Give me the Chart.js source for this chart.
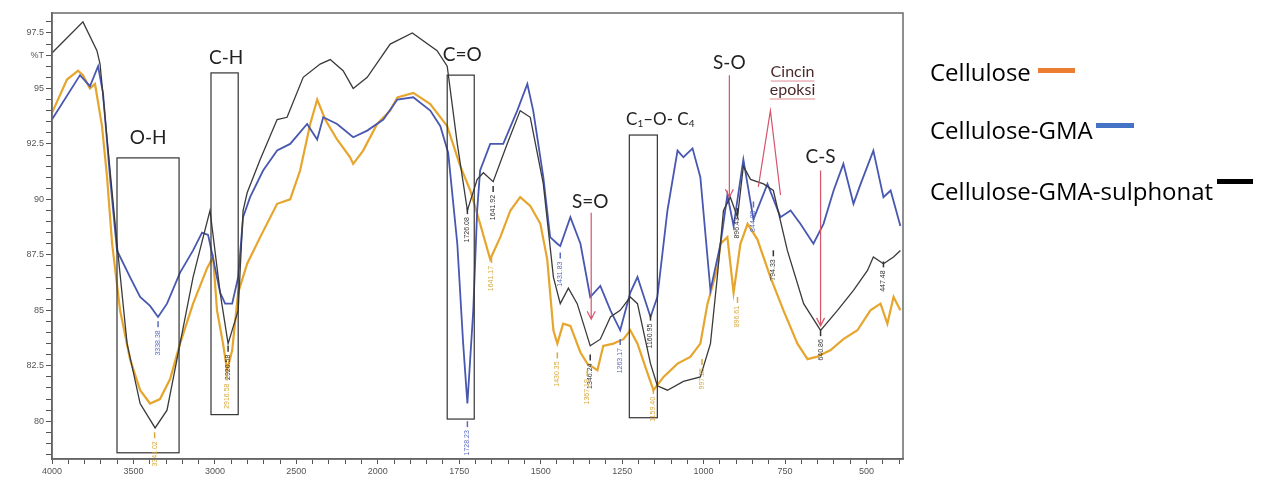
<!DOCTYPE html>
<html>
<head>
<meta charset="utf-8">
<script src="https://cdn.jsdelivr.net/npm/chart.js@4.4.0/dist/chart.umd.min.js"></script>
<style>
  body { margin: 0; background: #fff; }
  #wrap { position: relative; width: 1273px; height: 486px; }
  #ftir { position: absolute; left: 0; top: 0; }
  .item { position: absolute; left: 930px; font-family: 'Open Sans', sans-serif; font-size: 24px; line-height: 28px; color: #000; white-space: nowrap; }
  .item i { display: inline-block; height: 5px; position: relative; }
</style>
</head>
<body>
<div id="wrap">
  <canvas id="ftir" width="1273" height="486"></canvas>
  <div class="item" style="top:58px">Cellulose<i style="width:37px;margin-left:7px;bottom:8px;background:#ed7d31"></i></div>
  <div class="item" style="top:116px">Cellulose-GMA<i style="width:38px;margin-left:3px;bottom:11px;background:#4472c4"></i></div>
  <div class="item" style="top:177px">Cellulose-GMA-sulphonat<i style="width:36px;margin-left:4px;bottom:16px;background:#000"></i></div>
</div>
<script>
/* FTIR spektrum — Cellulose, Cellulose-GMA, Cellulose-GMA-sulphonat */

const seriesNames = ['Cellulose', 'Cellulose-GMA', 'Cellulose-GMA-sulphonat'];

// Cellulose (kuning/oranye)
const celluloseWn = [4000,3908,3840,3810,3767,3736,3693,3662,3631,3582,3521,3459,3398,3337,3275,3214,3134,3048,3011,2987,2950,2925,2894,2857,2802,2722,2618,2538,2477,2415,2372,2323,2250,2170,2151,2090,2004,1962,1940,1891,1839,1787,1747,1716,1686,1655,1624,1593,1563,1532,1501,1480,1461,1449,1431,1409,1378,1357,1326,1308,1277,1246,1225,1203,1173,1154,1123,1080,1041,1010,988,958,948,927,908,887,865,835,795,755,712,681,654,611,571,528,488,457,436,417,396];
const celluloseT  = [93.9,95.4,95.8,95.6,95.0,95.2,93.3,91.0,88.0,85.0,82.8,81.4,80.8,81.0,81.9,83.5,85.3,86.9,87.4,85.0,83.5,82.3,83.2,85.8,87.1,88.3,89.8,90.0,91.3,93.4,94.5,93.6,92.7,91.9,91.6,92.2,93.4,94.0,94.6,94.8,94.3,93.3,91.5,90.4,88.9,87.3,88.3,89.5,90.1,89.7,88.9,87.3,84.1,83.5,84.4,84.3,83.1,82.6,82.3,83.4,83.5,83.7,84.1,83.5,82.2,81.4,82.0,82.6,82.9,83.5,85.3,86.9,88.0,88.3,85.8,88.0,88.9,88.2,86.5,85.0,83.5,82.8,82.9,83.2,83.7,84.1,85.0,85.3,84.4,85.6,85.0];

// Cellulose-GMA (biru)
const gmaWn = [4000,3828,3767,3717,3687,3644,3601,3521,3459,3398,3349,3294,3214,3134,3079,3042,3030,2968,2937,2894,2857,2827,2784,2704,2618,2538,2434,2372,2335,2250,2151,2065,1983,1940,1891,1839,1808,1784,1756,1738,1725,1707,1695,1686,1655,1615,1572,1541,1523,1492,1471,1449,1440,1409,1378,1348,1317,1286,1256,1225,1203,1163,1142,1111,1080,1062,1034,1010,979,948,927,908,878,847,804,764,733,703,663,632,601,571,540,518,479,448,426,396];
const gmaT  = [93.6,95.6,95.1,96.0,94.8,91.0,87.7,86.5,85.6,85.2,84.7,85.3,86.7,87.7,88.5,88.4,88.0,85.8,85.3,85.3,86.5,89.2,90.1,91.3,92.2,92.5,93.4,92.7,93.7,93.4,92.8,93.1,93.6,94.5,94.6,94.0,93.3,92.1,88.0,83.5,80.8,85.0,89.5,91.3,92.5,92.5,94.0,95.2,94.0,91.0,88.3,88.0,87.9,89.2,88.0,85.6,86.1,85.0,84.1,85.8,86.5,84.7,85.6,89.5,92.2,91.9,92.3,91.0,85.9,88.0,90.2,88.8,91.8,89.1,90.7,89.2,89.5,88.9,88.0,88.9,90.4,91.6,89.8,90.7,92.2,90.1,90.4,88.8];

// Cellulose-GMA-sulphonat (hitam)
const sulfWn = [4000,3810,3724,3705,3601,3539,3459,3367,3294,3214,3134,3072,3030,2968,2919,2857,2827,2802,2722,2618,2557,2458,2354,2292,2213,2151,2065,1962,1894,1818,1787,1756,1725,1695,1676,1646,1603,1563,1532,1492,1461,1440,1415,1388,1348,1317,1286,1256,1225,1203,1163,1142,1111,1062,1010,979,958,939,918,896,878,856,816,786,743,693,641,589,540,497,479,448,417,396];
const sulfT  = [96.6,98.0,96.7,96.1,88.0,83.5,80.8,79.7,80.5,83.5,86.5,88.3,89.5,85.8,83.5,85.0,89.5,90.3,91.8,93.6,93.7,95.5,96.1,96.3,95.8,95.0,95.5,97.0,97.5,96.7,96.0,92.5,89.5,90.9,91.2,90.8,92.5,94.0,93.7,90.7,86.5,85.3,86.0,85.3,83.4,83.7,84.7,85.0,85.6,85.3,82.6,81.6,81.4,81.8,82.0,83.5,86.5,89.5,90.1,89.2,91.5,90.9,90.7,90.4,87.7,85.3,84.1,85.0,85.9,86.8,87.4,87.1,87.4,87.7];

const xMajorWn = [4000,3500,3000,2500,2000,1750,1500,1250,1000,750,500];
const yMajor   = [80,82.5,85,87.5,90,92.5,95,97.5];

// sumbu x: skala 2:1 di atas 2000 cm-1, 1:1 di bawahnya
const toU   = wn => wn >= 2000 ? (4000 - wn) / 2 : 3000 - wn;
const fromU = u  => u <= 1000 ? 4000 - 2 * u : 3000 - u;
const U_MAX = toU(388);

const pts = (wn, t) => wn.map((w, i) => ({ x: toU(w), y: t[i] }));

// anotasi gugus fungsi
const boxes = [[3601,3220,91.87,78.58],[3024,2857,95.7,80.3],[1787,1704,95.6,80.1],[1228,1142,92.9,80.16]];
const groupLabels = [['O-H',3410,92.77],['C-H',2931,96.4],['C=O',1741,96.5],['S=O',1348,89.9],['S-O',921,96.15],['C-S',641,91.9]];
const arrows = [[1345,89.4,84.6],[921,95.6,90.1],[641,91.3,84.3]];
const peakLabels = [
  ['3338.38',3349,84.1,'#5b6cc0'],['1728.23',1725,79.6,'#5b6cc0'],['1431.83',1440,87.2,'#5b6cc0'],
  ['1263.17',1256,83.3,'#5b6cc0'],['844.83',847,89.5,'#5b6cc0'],
  ['2920.58',2919,83.0,'#333'],['1726.08',1725,89.2,'#333'],['1641.92',1646,90.2,'#333'],
  ['1346.24',1348,82.6,'#333'],['1160.95',1163,84.4,'#333'],['896.43',896,89.2,'#333'],
  ['794.33',786,87.3,'#333'],['640.86',641,83.7,'#333'],['447.48',448,86.8,'#333'],
  ['3341.02',3370,79.1,'#d9a83c'],['2916.58',2925,81.7,'#d9a83c'],['1641.17',1651,87.0,'#d9a83c'],
  ['1430.35',1449,82.7,'#d9a83c'],['1367.19',1357,81.9,'#d9a83c'],['1159.40',1154,81.1,'#d9a83c'],
  ['997.25',1005,82.4,'#d9a83c'],['896.61',896,85.2,'#d9a83c'],
];

const annotate = {
  id: 'annotate',
  afterDatasetsDraw(chart) {
    const { ctx, chartArea: a, scales: { x, y } } = chart;
    const px = wn => x.getPixelForValue(toU(wn));
    const py = t => y.getPixelForValue(t);
    ctx.save();

    // kotak
    ctx.strokeStyle = '#333'; ctx.lineWidth = 1.2;
    boxes.forEach(b => {
      const x1 = px(b[0]), x2 = px(b[1]), y1 = py(b[2]), y2 = py(b[3]);
      ctx.strokeRect(x1, y1, x2 - x1, y2 - y1);
    });

    // label puncak kecil
    ctx.font = '7px "Liberation Sans"';
    ctx.textBaseline = 'middle'; ctx.textAlign = 'right';
    peakLabels.forEach(p => {
      const X = px(p[1]), Y = py(p[2]);
      ctx.strokeStyle = p[3]; ctx.fillStyle = p[3]; ctx.lineWidth = 1.5;
      ctx.beginPath(); ctx.moveTo(X, Y - 9); ctx.lineTo(X, Y - 3); ctx.stroke();
      ctx.save(); ctx.translate(X, Y); ctx.rotate(-Math.PI / 2);
      ctx.fillText(p[0], 0, 0); ctx.restore();
    });

    // panah merah
    ctx.strokeStyle = '#d6546a'; ctx.lineWidth = 1.2;
    arrows.forEach(r => {
      const X = px(r[0]), y1 = py(r[1]), y2 = py(r[2]);
      ctx.beginPath(); ctx.moveTo(X, y1); ctx.lineTo(X, y2);
      ctx.moveTo(X - 4, y2 - 8); ctx.lineTo(X, y2); ctx.lineTo(X + 4, y2 - 8); ctx.stroke();
    });
    ctx.beginPath();
    ctx.moveTo(px(832), py(90.56)); ctx.lineTo(px(795), py(94.0)); ctx.lineTo(px(764), py(90.2));
    ctx.stroke();

    // teks gugus
    ctx.fillStyle = '#222'; ctx.textAlign = 'center'; ctx.textBaseline = 'middle';
    ctx.font = '19px Lato';
    groupLabels.forEach(l => ctx.fillText(l[0], px(l[1]), py(l[2])));

    // C1-O-C4 dengan subskrip
    const parts = [['C', 17, 0], ['1', 10, 4], ['\u2013O- C', 17, 0], ['4', 10, 4]];
    let w = 0;
    parts.forEach(p => { ctx.font = p[1] + 'px Lato'; w += ctx.measureText(p[0]).width; });
    let cx = px(1133) - w / 2; const cy = py(93.6);
    ctx.textAlign = 'left';
    parts.forEach(p => { ctx.font = p[1] + 'px Lato'; ctx.fillText(p[0], cx, cy + p[2]); cx += ctx.measureText(p[0]).width; });

    // Cincin epoksi
    ctx.font = '16px Lato'; ctx.textAlign = 'center'; ctx.fillStyle = '#4a2a2a';
    ctx.strokeStyle = '#e08a95'; ctx.lineWidth = 1;
    [['Cincin', 95.74], ['epoksi', 94.93]].forEach(t => {
      const X = px(727), Y = py(t[1]);
      ctx.fillText(t[0], X, Y);
      const tw = ctx.measureText(t[0]).width;
      ctx.beginPath(); ctx.moveTo(X - tw / 2, Y + 9); ctx.lineTo(X + tw / 2, Y + 9); ctx.stroke();
    });

    // bingkai plot
    ctx.strokeStyle = '#6a6a6a'; ctx.lineWidth = 1.5;
    ctx.strokeRect(a.left, a.top, a.width, a.height);
    ctx.restore();
  }
};

new Chart(document.getElementById('ftir'), {
  type: 'line',
  data: {
    datasets: [
      { label: seriesNames[2], data: pts(sulfWn, sulfT), borderColor: '#3a3a3a', borderWidth: 1.3, order: 0 },
      { label: seriesNames[1], data: pts(gmaWn, gmaT), borderColor: '#4858b0', borderWidth: 1.8, order: 1 },
      { label: seriesNames[0], data: pts(celluloseWn, celluloseT), borderColor: '#e6a52c', borderWidth: 2.2, order: 2 },
    ],
  },
  options: {
    responsive: false, animation: false,
    layout: { padding: { left: 8, top: 13, right: 370, bottom: 0 } },
    elements: { point: { radius: 0 }, line: { tension: 0 } },
    plugins: { legend: { display: false }, tooltip: { enabled: false } },
    scales: {
      x: {
        type: 'linear', min: 0, max: U_MAX,
        afterBuildTicks: s => { s.ticks = []; for (let u = 0; u <= U_MAX; u += 50) s.ticks.push({ value: u }); },
        afterFit: s => { s.height = 27; },
        ticks: {
          autoSkip: false, maxRotation: 0, padding: 2, color: '#555',
          font: { family: 'Liberation Sans', size: 9 },
          callback: v => xMajorWn.includes(fromU(v)) ? String(fromU(v)) : '',
        },
        grid: { drawOnChartArea: false, tickLength: 5, color: '#555' },
        border: { color: '#555', width: 1.5 },
      },
      y: {
        min: 78.3, max: 98.4,
        afterBuildTicks: s => { s.ticks = []; for (let k = 785; k <= 980; k += 5) s.ticks.push({ value: k / 10 }); },
        afterFit: s => { s.width = 44; },
        ticks: {
          autoSkip: false, padding: 2, color: '#555',
          font: { family: 'Liberation Sans', size: 9 },
          callback: v => yMajor.includes(v) ? String(v) : (v === 96.5 ? '%T' : ''),
        },
        grid: { drawOnChartArea: false, tickLength: 6, color: '#555' },
        border: { color: '#555', width: 1.5 },
      },
    },
  },
  plugins: [annotate],
});
</script>
</body>
</html>
